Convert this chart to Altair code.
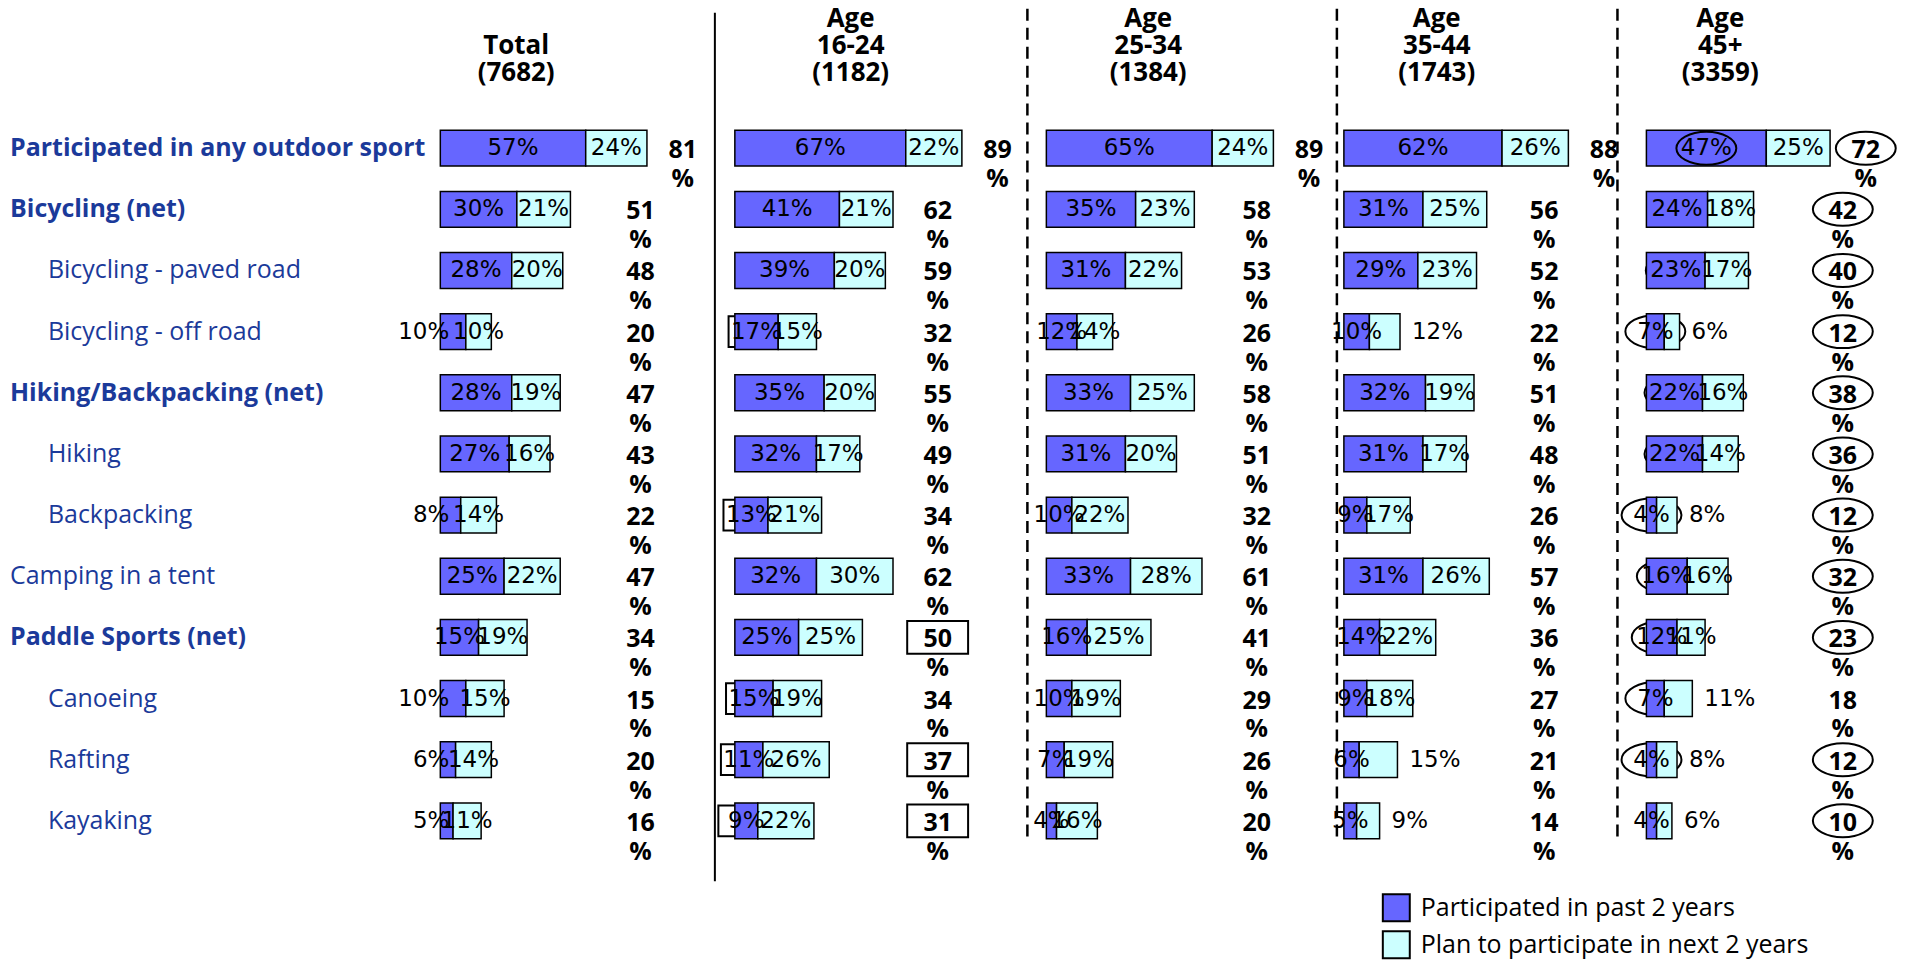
import altair as alt
import pandas as pd

# ---------------- data ----------------
rows = ["Participated in any outdoor sport", "Bicycling (net)", "Bicycling - paved road",
        "Bicycling - off road", "Hiking/Backpacking (net)", "Hiking", "Backpacking",
        "Camping in a tent", "Paddle Sports (net)", "Canoeing", "Rafting", "Kayaking"]
row_bold = [1, 1, 0, 0, 1, 0, 0, 0, 1, 0, 0, 0]
row_indent = [0, 0, 1, 1, 0, 1, 1, 0, 0, 1, 1, 1]

groups = ["Total", "16-24", "25-34", "35-44", "45+"]
group_headers = [["Total", "(7682)"], ["Age", "16-24", "(1182)"], ["Age", "25-34", "(1384)"],
                 ["Age", "35-44", "(1743)"], ["Age", "45+", "(3359)"]]

past_total = [57, 30, 28, 10, 28, 27, 8, 25, 15, 10, 6, 5]
plan_total = [24, 21, 20, 10, 19, 16, 14, 22, 19, 15, 14, 11]
net_total = [81, 51, 48, 20, 47, 43, 22, 47, 34, 15, 20, 16]

past_16_24 = [67, 41, 39, 17, 35, 32, 13, 32, 25, 15, 11, 9]
plan_16_24 = [22, 21, 20, 15, 20, 17, 21, 30, 25, 19, 26, 22]
net_16_24 = [89, 62, 59, 32, 55, 49, 34, 62, 50, 34, 37, 31]

past_25_34 = [65, 35, 31, 12, 33, 31, 10, 33, 16, 10, 7, 4]
plan_25_34 = [24, 23, 22, 14, 25, 20, 22, 28, 25, 19, 19, 16]
net_25_34 = [89, 58, 53, 26, 58, 51, 32, 61, 41, 29, 26, 20]

past_35_44 = [62, 31, 29, 10, 32, 31, 9, 31, 14, 9, 6, 5]
plan_35_44 = [26, 25, 23, 12, 19, 17, 17, 26, 22, 18, 15, 9]
net_35_44 = [88, 56, 52, 22, 51, 48, 26, 57, 36, 27, 21, 14]

past_45 = [47, 24, 23, 7, 22, 22, 4, 16, 12, 7, 4, 4]
plan_45 = [25, 18, 17, 6, 16, 14, 8, 16, 11, 11, 8, 6]
net_45 = [72, 42, 40, 12, 38, 36, 12, 32, 23, 18, 12, 10]

past_by = dict(zip(groups, [past_total, past_16_24, past_25_34, past_35_44, past_45]))
plan_by = dict(zip(groups, [plan_total, plan_16_24, plan_25_34, plan_35_44, plan_45]))
net_by = dict(zip(groups, [net_total, net_16_24, net_25_34, net_35_44, net_45]))

series = ["Participated in past 2 years", "Plan to participate in next 2 years"]
colors = ["#6666FF", "#CCFFFF"]

# significance markers (boxes for 16-24, ellipses for 45+)
sig_box_net = {"16-24": ["Paddle Sports (net)", "Rafting", "Kayaking"]}
sig_box_past = {"16-24": ["Bicycling - off road", "Backpacking", "Paddle Sports (net)",
                          "Canoeing", "Rafting", "Kayaking"]}
sig_ell_net = {"45+": [r for r in rows if r != "Canoeing"]}
sig_ell_past = {"45+": [r for r in rows if r != "Kayaking"]}

# ---------------- layout ----------------
FONT = "Open Sans"
NUMFONT = "DejaVu Sans"
BLUE = "#1b3a9a"
PX = 2.555                      # pixels per percentage point
LABEL_W = 433
panel_w = [275, 313, 310, 281, 285]
bar_off = [0, 20, 19, 7, 29]
header_x = [76, 136, 121, 100, 103]
net_pos = [78.5, 79.5, 82.5, 78.5, 77]
H = 735

ELLIPSE = "M -1 0 A 1 0.55 0 1 0 1 0 A 1 0.55 0 1 0 -1 0 Z"
BOX_NET = "M -1 -0.54 L 1 -0.54 L 1 0.54 L -1 0.54 Z"
BOX_PAST = "M -1 -0.55 L 1 -0.55 L 1 0.55 L -1 0.55 Z"

ys = alt.Scale(domain=rows, paddingInner=0.414, paddingOuter=0.207)
Y = alt.Y("row:N", sort=rows, scale=ys, axis=None)

legend = alt.Legend(title=None, orient="none", legendX=-236, legendY=777,
                    symbolType="square", symbolSize=729, symbolStrokeColor="black",
                    symbolStrokeWidth=2, symbolOpacity=1, labelFontSize=25, labelFont=FONT,
                    labelColor="black", rowPadding=2, labelOffset=10, labelLimit=500)

one = pd.DataFrame({"k": [0]})


def panel(gi):
    g = groups[gi]
    p_l, q_l, n_l = past_by[g], plan_by[g], net_by[g]
    seg, lab, mk = [], [], []
    for i, r in enumerate(rows):
        p, q, n = p_l[i], q_l[i], n_l[i]
        seg.append(dict(row=r, series=series[0], start=0, end=p))
        seg.append(dict(row=r, series=series[1], start=p, end=p + q))
        past_out = (g == "Total" and p < 12)
        plan_out = q < 10 or (g in ("35-44", "45+") and q <= 15 and p < 12)
        lab.append(dict(row=r, ptxt=f"{p}%", qtxt=f"{q}%",
                        px=0 if past_out else p / 2, pout=past_out,
                        qx=p + q if plan_out else p + q / 2, qout=plan_out,
                        ntxt=str(n), nx=(p + q + 14) if i == 0 else net_pos[gi]))
        if r in sig_box_past.get(g, []):
            mk.append(dict(row=r, x=p / 2, kind="box_past", top=False))
        if r in sig_ell_past.get(g, []):
            mk.append(dict(row=r, x=p / 2, kind="ell_past", top=(i == 0)))
        if r in sig_box_net.get(g, []):
            mk.append(dict(row=r, x=net_pos[gi], kind="box_net", top=True))
        if r in sig_ell_net.get(g, []):
            mk.append(dict(row=r, x=(p + q + 14) if i == 0 else net_pos[gi], kind="ell_net", top=True))
    seg = pd.DataFrame(seg)
    lab = pd.DataFrame(lab)
    mk = pd.DataFrame(mk, columns=["row", "x", "kind", "top"])

    xs = alt.Scale(domain=[-bar_off[gi] / PX, (panel_w[gi] - bar_off[gi]) / PX], nice=False, zero=False)

    def X(f):
        return alt.X(f, type="quantitative", scale=xs, axis=None)

    layers = []
    shapes = {"box_past": (BOX_PAST, 3136), "ell_past": (ELLIPSE, 3600),
              "box_net": (BOX_NET, 3721), "ell_net": (ELLIPSE, 3600)}

    def marker_layers(df):
        out = []
        for kind, (shp, sz) in shapes.items():
            d = df[df.kind == kind]
            if len(d):
                out.append(alt.Chart(d).mark_point(shape=shp, size=sz, filled=False, stroke="black",
                                                   strokeWidth=2, opacity=1)
                           .encode(x=X("x"), y=Y))
        return out

    layers += marker_layers(mk[~mk.top.astype(bool)])

    bars = alt.Chart(seg).mark_bar(stroke="black", strokeWidth=1.5).encode(
        x=X("start"), x2="end:Q", y=Y,
        color=alt.Color("series:N", scale=alt.Scale(domain=series, range=colors),
                        legend=legend if gi == 4 else None))
    layers.append(bars)

    tstyle = dict(font=NUMFONT, fontSize=23, color="black", baseline="middle")
    d_in = lab[~lab.pout]
    layers.append(alt.Chart(d_in).mark_text(align="center", **tstyle).encode(x=X("px"), y=Y, text="ptxt:N"))
    d_out = lab[lab.pout]
    if len(d_out):
        layers.append(alt.Chart(d_out).mark_text(align="right", dx=9, **tstyle)
                      .encode(x=X("px"), y=Y, text="ptxt:N"))
    q_in = lab[~lab.qout]
    layers.append(alt.Chart(q_in).mark_text(align="center", **tstyle).encode(x=X("qx"), y=Y, text="qtxt:N"))
    q_out = lab[lab.qout]
    if len(q_out):
        layers.append(alt.Chart(q_out).mark_text(align="left", dx=12, **tstyle)
                      .encode(x=X("qx"), y=Y, text="qtxt:N"))

    nstyle = dict(font=FONT, fontSize=25, fontWeight="bold", color="black", align="center")
    layers.append(alt.Chart(lab).mark_text(baseline="middle", dy=2, **nstyle)
                  .encode(x=X("nx"), y=Y, text="ntxt:N"))
    layers.append(alt.Chart(lab).mark_text(baseline="middle", dy=31, text="%", **nstyle)
                  .encode(x=X("nx"), y=Y))

    layers += marker_layers(mk[mk.top.astype(bool)])

    layers.append(alt.Chart(one).mark_text(text=group_headers[gi], font=FONT, fontSize=26,
                                           fontWeight="bold", color="black", align="center",
                                           baseline="middle", lineHeight=27)
                  .encode(x=alt.value(header_x[gi]), y=alt.value(-72 if gi == 0 else -99)))
    if gi == 1:
        layers.append(alt.Chart(one).mark_rule(stroke="black", strokeWidth=2)
                      .encode(x=alt.value(0), y=alt.value(-105), y2=alt.value(765)))
    elif gi > 1:
        layers.append(alt.Chart(one).mark_rule(stroke="black", strokeWidth=2.5, strokeDash=[12, 7])
                      .encode(x=alt.value(0), y=alt.value(-109), y2=alt.value(725)))

    return alt.layer(*layers).properties(width=panel_w[gi], height=H)


lab_df = pd.DataFrame({"row": rows, "level": row_indent, "bold": row_bold})
lx = alt.X("level:Q", scale=alt.Scale(domain=[0, LABEL_W / 38], nice=False, zero=False), axis=None)
lstyle = dict(font=FONT, fontSize=25, color=BLUE, align="left", baseline="middle", dx=2)
label_panel = alt.layer(
    alt.Chart(lab_df[lab_df.bold == 1]).mark_text(fontWeight="bold", **lstyle).encode(x=lx, y=Y, text="row:N"),
    alt.Chart(lab_df[lab_df.bold == 0]).mark_text(fontWeight="normal", **lstyle).encode(x=lx, y=Y, text="row:N"),
).properties(width=LABEL_W, height=H)

chart = alt.hconcat(label_panel, *[panel(i) for i in range(5)], spacing=0, bounds="flush") \
    .resolve_scale(color="shared", x="independent") \
    .resolve_legend(color="independent") \
    .properties(padding={"top": -3, "left": 0, "right": 0, "bottom": 0}) \
    .configure_view(stroke=None)

chart.save("out.html", embed_options={"renderer": "svg", "actions": False})
